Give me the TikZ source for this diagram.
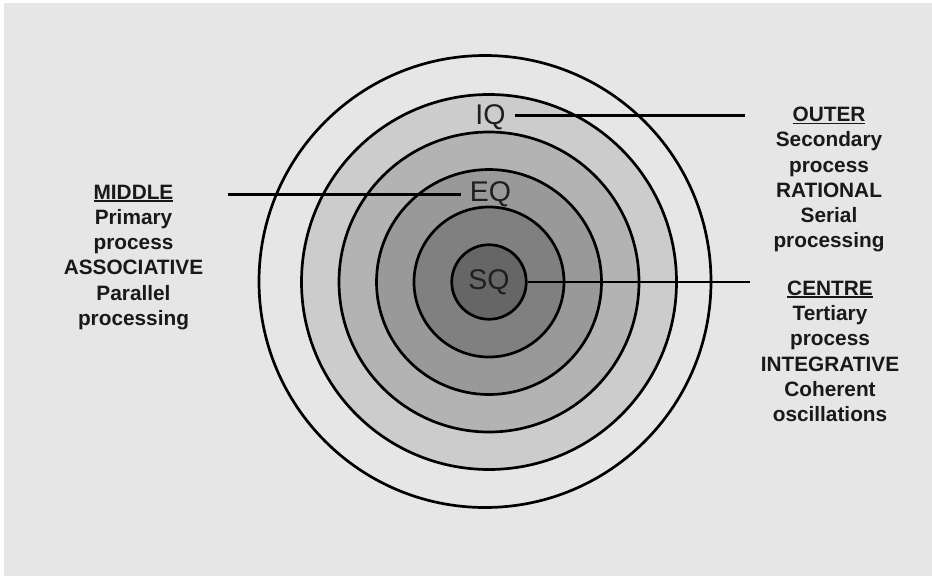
\documentclass[tikz,border=0pt]{standalone}
\usepackage{fontspec}
\setmainfont{Liberation Sans}

\definecolor{canvasgray}{HTML}{E6E6E6}
\definecolor{ringA}{HTML}{CCCCCC}
\definecolor{ringB}{HTML}{B3B3B3}
\definecolor{ringC}{HTML}{999999}
\definecolor{ringD}{HTML}{808080}
\definecolor{ringE}{HTML}{666666}

% underline drawn as a rule, a bit below the baseline
\newcommand\ulword[1]{\setbox0=\hbox{#1}\rlap{\rule[-2.6pt]{\wd0}{1.5pt}}\box0}

\begin{document}
\begin{tikzpicture}[x=1pt, y=-1pt, line width=2.7pt,
  quot/.style={font=\fontsize{28.5}{28.5}\selectfont, text=black!88,
    inner xsep=8pt, inner ysep=0pt, anchor=base},
  core/.style={circle, draw, fill=ringE, minimum size=74.5pt, inner sep=0pt,
    font=\fontsize{28.5}{28.5}\selectfont, text=black!88},
  side/.style={align=center, inner sep=0pt, text=black!90,
    font=\fontsize{20.8}{25.3}\selectfont\bfseries}]
  % Canvas with a thin white edge at top and left.
  \useasboundingbox (0,0) rectangle (932,576);
  \fill[white] (0,0) rectangle (932,576);
  \fill[canvasgray] (4,3) rectangle (932,576);
  % Outer ring, outline only.
  \draw (485,281.5) circle [radius=226];
  % Shaded rings, outside in.
  \foreach \r/\c in {187.5/ringA, 150/ringB, 112.5/ringC, 75/ringD}
    \draw[fill=\c] (489,282) circle [radius=\r];
  \node[core] (sq) at (489,282) {SQ};
  % Ring labels.
  \node[quot] (iq) at (490.5,124.5) {IQ};
  \node[quot] (eq) at (490.5,201.7) {EQ};
  % Free ends of the leader lines.
  \coordinate (iqend) at (745,115);
  \coordinate (eqend) at (228,192);
  \coordinate (sqend) at (750,280);
  \draw ([yshift=1.5pt]iq.east) -- ([yshift=1.5pt]iq.east -| iqend);
  \draw (eq.west) -- (eq.west -| eqend);
  \draw (sq.east) -- (sq.east -| sqend);
  % Side notes.
  \node[side] (middle) at (133.5,257.3)
    {\ulword{MIDDLE}\\Primary\\process\\ASSOCIATIVE\\Parallel\\processing};
  \node[side] (outer) at (829,179.6)
    {\ulword{OUTER}\\Secondary\\process\\RATIONAL\\Serial\\processing};
  \node[side] (centre) at (830,351.2)
    {\ulword{CENTRE}\\Tertiary\\process\\INTEGRATIVE\\Coherent\\oscillations};
\end{tikzpicture}
\end{document}
